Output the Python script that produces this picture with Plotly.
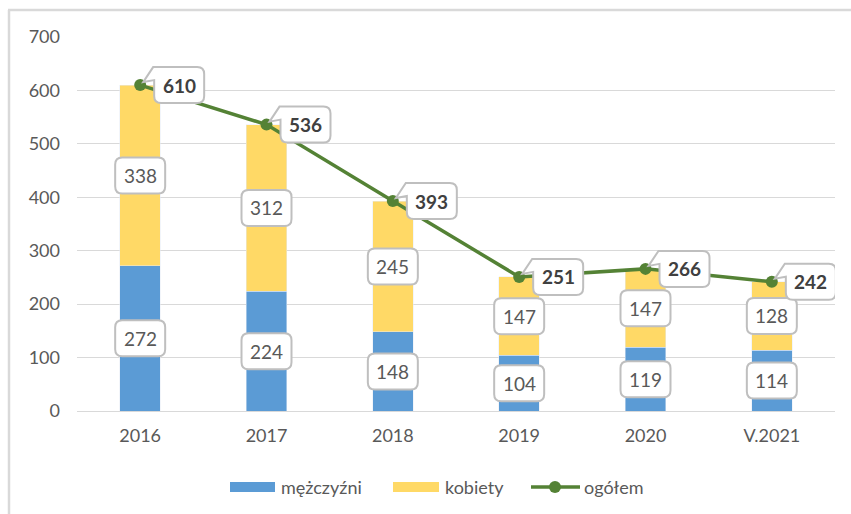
import plotly.graph_objects as go

# Data
years = ["2016", "2017", "2018", "2019", "2020", "V.2021"]
men = [272, 224, 148, 104, 119, 114]
women = [338, 312, 245, 147, 147, 128]
total = [610, 536, 393, 251, 266, 242]

BLUE = "#5B9BD5"
YELLOW = "#FFD966"
GREEN = "#548235"
GRID = "#D9D9D9"
TXT = "#595959"
FONT = "Lato, 'Open Sans', sans-serif"

W, H = 851, 514
ML, MR, MT, MB = 77, 16, 37, 103
PW, PH = W - ML - MR, H - MT - MB

pos = list(range(len(years)))

fig = go.Figure()
fig.add_trace(go.Bar(x=pos, y=men, name="mężczyźni", marker_color=BLUE,
                     width=0.32, showlegend=False, hoverinfo="y"))
fig.add_trace(go.Bar(x=pos, y=women, name="kobiety", marker_color=YELLOW,
                     width=0.32, showlegend=False, hoverinfo="y"))
fig.add_trace(go.Scatter(x=pos, y=total, name="ogółem", mode="lines+markers",
                         line=dict(color=GREEN, width=3.5),
                         marker=dict(color=GREEN, size=12),
                         showlegend=False, hoverinfo="y"))


def rounded_box(l, r, b, t, rad=7):
    return (f"M{l},{b + rad} L{l},{t - rad} Q{l},{t} {l + rad},{t} "
            f"L{r - rad},{t} Q{r},{t} {r},{t - rad} L{r},{b + rad} "
            f"Q{r},{b} {r - rad},{b} L{l + rad},{b} Q{l},{b} {l},{b + rad} Z")


def callout_box(l, r, b, t, rad=7):
    # rounded box with a pointer from its upper-left corner toward the anchor point
    return (f"M{l},{b + rad} L{l},{t - 13} L3,3 L{l - 1},{t} "
            f"L{r - rad},{t} Q{r},{t} {r},{t - rad} L{r},{b + rad} "
            f"Q{r},{b} {r - rad},{b} L{l + rad},{b} Q{l},{b} {l},{b + rad} Z")


shapes = []
annotations = []
box_line = dict(color="#BFBFBF", width=2)

# Segment labels (centered in each stacked segment)
for i in pos:
    for base, val in ((0, men[i]), (men[i], women[i])):
        mid = base + val / 2
        shapes.append(dict(type="path", xref="x", yref="y", xsizemode="pixel", ysizemode="pixel",
                           xanchor=i, yanchor=mid, path=rounded_box(-25, 25, -18, 18),
                           fillcolor="white", line=box_line, layer="above"))
        annotations.append(dict(x=i, y=mid, xref="x", yref="y", text=str(val), showarrow=False,
                                font=dict(family=FONT, size=19, color=TXT)))

# Total labels to the right of each point
for i in pos:
    shapes.append(dict(type="path", xref="x", yref="y", xsizemode="pixel", ysizemode="pixel",
                       xanchor=i, yanchor=total[i], path=callout_box(14, 64, -18, 18),
                       fillcolor="white", line=box_line, layer="above"))
    annotations.append(dict(x=i, y=total[i], xref="x", yref="y", text=f"<b>{total[i]}</b>",
                            showarrow=False, xshift=39, yshift=0,
                            font=dict(family=FONT, size=19, color="#404040")))


def px(x):
    return (x - ML) / PW


def py(y):
    return (MT + PH - y) / PH


# Legend
leg_y = 487
for x0, x1, col, label in ((230, 275, BLUE, "mężczyźni"), (393, 439, YELLOW, "kobiety")):
    shapes.append(dict(type="rect", xref="paper", yref="paper", x0=px(x0), x1=px(x1),
                       y0=py(leg_y + 5), y1=py(leg_y - 5), fillcolor=col, line_width=0))
    annotations.append(dict(x=px(x1 + 4), y=py(leg_y), xref="paper", yref="paper", text=label,
                            showarrow=False, xanchor="left", yanchor="middle",
                            font=dict(family=FONT, size=18, color=TXT)))
shapes.append(dict(type="line", xref="paper", yref="paper", x0=px(531), x1=px(580),
                   y0=py(leg_y), y1=py(leg_y), line=dict(color=GREEN, width=3.5)))
shapes.append(dict(type="circle", xref="paper", yref="paper", x0=px(549), x1=px(561),
                   y0=py(leg_y - 6), y1=py(leg_y + 6), fillcolor=GREEN, line_width=0))
annotations.append(dict(x=px(582), y=py(leg_y), xref="paper", yref="paper", text="ogółem",
                        showarrow=False, xanchor="left", yanchor="middle",
                        font=dict(family=FONT, size=18, color=TXT)))

# Outer frame (left and top edges)
shapes.append(dict(type="line", xref="paper", yref="paper", x0=px(9), x1=px(9),
                   y0=py(10), y1=py(520), line=dict(color=GRID, width=2.5)))
shapes.append(dict(type="line", xref="paper", yref="paper", x0=px(8), x1=px(860),
                   y0=py(10), y1=py(10), line=dict(color=GRID, width=2.5)))

fig.update_layout(
    width=W, height=H,
    margin=dict(l=ML, r=MR, t=MT, b=MB),
    barmode="stack",
    plot_bgcolor="white", paper_bgcolor="white",
    font=dict(family=FONT, size=18, color=TXT),
    shapes=shapes, annotations=annotations,
    xaxis=dict(range=[-0.5, len(years) - 0.5], tickvals=pos, ticktext=years,
               showgrid=False, showline=True, linecolor=GRID, linewidth=1, zeroline=False,
               ticks="", tickfont=dict(size=18, color=TXT), ticklabelstandoff=8),
    yaxis=dict(range=[0, 700], dtick=100, showgrid=True, gridcolor=GRID, gridwidth=1,
               zeroline=True, zerolinecolor=GRID, zerolinewidth=1, showline=False,
               ticks="", tickfont=dict(size=18, color=TXT), ticklabelstandoff=16),
)

fig.write_html("out.html")
